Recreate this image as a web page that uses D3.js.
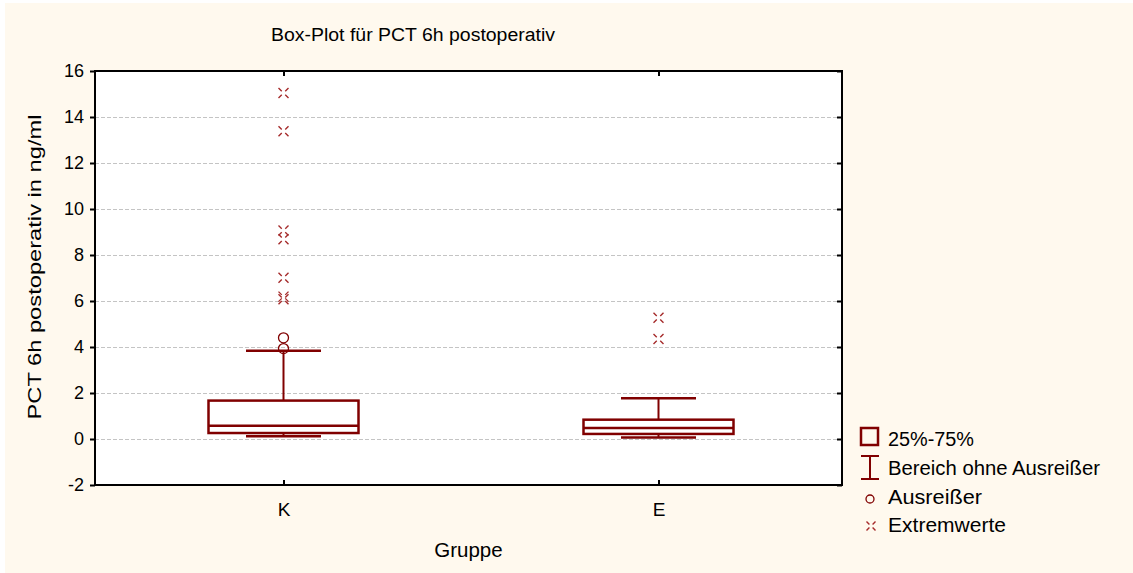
<!DOCTYPE html>
<html>
<head>
<meta charset="utf-8">
<script src="https://cdn.jsdelivr.net/npm/d3@7"></script>
<style>
  html, body { margin: 0; padding: 0; background: #ffffff; }
  svg { display: block; }
  text { font-family: "Liberation Sans", Arial, sans-serif; fill: #000; }
</style>
</head>
<body>
<svg id="chart" width="1133" height="573"></svg>
<script>
// Groups and box-plot statistics (PCT 6h postoperativ, ng/ml)
const categories = ["K", "E"];
const whiskerLow = [0.12, 0.07];
const q1 = [0.26, 0.22];
const median = [0.58, 0.48];
const q3 = [1.67, 0.84];
const whiskerHigh = [3.84, 1.77];
const outliers = [[4.40, 3.93], []];
const extremes = [[15.04, 13.38, 9.07, 8.68, 7.01, 6.19, 6.08], [5.27, 4.35]];
const yTicks = [-2, 0, 2, 4, 6, 8, 10, 12, 14, 16];
const legendItems = ["25%-75%", "Bereich ohne Ausreißer", "Ausreißer", "Extremwerte"];

const boxColor = "#800000";
const markColor = "#a52a2a";

const svg = d3.select("#chart");

// cream page panel
svg.append("rect").attr("x", 5).attr("y", 3).attr("width", 1128).attr("height", 570)
  .attr("fill", "#fff9ee");

const plot = { left: 95, right: 842, top: 71, bottom: 485 };

const y = d3.scaleLinear().domain([-2, 16]).range([plot.bottom, plot.top]);
const x = d3.scalePoint().domain(categories).range([plot.left + 1, plot.right + 4]).padding(0.5);
const step = x.step();
const boxW = step * 0.4;
const capW = step * 0.2;

// plot background
svg.append("rect").attr("x", plot.left).attr("y", plot.top)
  .attr("width", plot.right - plot.left).attr("height", plot.bottom - plot.top)
  .attr("fill", "#ffffff");

// horizontal grid
svg.append("g").selectAll("line").data(yTicks.filter(d => d > -2 && d < 16)).join("line")
  .attr("x1", plot.left).attr("x2", plot.right)
  .attr("y1", d => Math.round(y(d)) + 0.5).attr("y2", d => Math.round(y(d)) + 0.5)
  .attr("stroke", "#c4c4c4").attr("stroke-width", 1).attr("stroke-dasharray", "4,2");

// left axis with outward ticks (plain hyphen for negatives)
const yAxis = d3.axisLeft(y).tickValues(yTicks).tickSize(5).tickPadding(6).tickFormat(d => String(d));
const gy = svg.append("g").attr("transform", `translate(${plot.left},0)`).call(yAxis);
gy.select(".domain").remove();
gy.selectAll(".tick line").attr("stroke", "#000").attr("stroke-width", 2);
gy.selectAll(".tick text").attr("font-size", 18).attr("font-family", "Liberation Sans, Arial, sans-serif")
  .attr("fill", "#000");

// right axis with inward ticks
const gyr = svg.append("g").attr("transform", `translate(${plot.right},0)`)
  .call(d3.axisRight(y).tickValues(yTicks).tickSize(-5).tickFormat(""));
gyr.select(".domain").remove();
gyr.selectAll(".tick line").attr("stroke", "#000").attr("stroke-width", 2);

// bottom and top axes with inward ticks
const gx = svg.append("g").attr("transform", `translate(0,${plot.bottom})`)
  .call(d3.axisBottom(x).tickSize(-5).tickPadding(14));
gx.select(".domain").remove();
gx.selectAll(".tick line").attr("stroke", "#000").attr("stroke-width", 2);
gx.selectAll(".tick text").attr("font-size", 19).attr("font-family", "Liberation Sans, Arial, sans-serif")
  .attr("fill", "#000").attr("dy", "0.9em");

const gxt = svg.append("g").attr("transform", `translate(0,${plot.top})`)
  .call(d3.axisTop(x).tickSize(-5).tickFormat(""));
gxt.select(".domain").remove();
gxt.selectAll(".tick line").attr("stroke", "#000").attr("stroke-width", 2);

// frame
svg.append("rect").attr("x", plot.left).attr("y", plot.top)
  .attr("width", plot.right - plot.left).attr("height", plot.bottom - plot.top)
  .attr("fill", "none").attr("stroke", "#000").attr("stroke-width", 2);

// boxes
const groups = svg.append("g").selectAll("g").data(categories).join("g");

groups.append("line")
  .attr("x1", d => x(d)).attr("x2", d => x(d))
  .attr("y1", (d, i) => y(whiskerLow[i])).attr("y2", (d, i) => y(whiskerHigh[i]))
  .attr("stroke", boxColor).attr("stroke-width", 2);

groups.selectAll("line.cap").data((d, i) => [whiskerLow[i], whiskerHigh[i]].map(v => ({ c: d, v })))
  .join("line").attr("class", "cap")
  .attr("x1", d => x(d.c) - capW / 2).attr("x2", d => x(d.c) + capW / 2)
  .attr("y1", d => y(d.v)).attr("y2", d => y(d.v))
  .attr("stroke", boxColor).attr("stroke-width", 2.5);

groups.append("rect")
  .attr("x", d => x(d) - boxW / 2).attr("width", boxW)
  .attr("y", (d, i) => y(q3[i])).attr("height", (d, i) => y(q1[i]) - y(q3[i]))
  .attr("fill", "#ffffff").attr("stroke", boxColor).attr("stroke-width", 2.5);

groups.append("line")
  .attr("x1", d => x(d) - boxW / 2).attr("x2", d => x(d) + boxW / 2)
  .attr("y1", (d, i) => y(median[i])).attr("y2", (d, i) => y(median[i]))
  .attr("stroke", boxColor).attr("stroke-width", 2.5);

// outliers (open circles)
groups.selectAll("circle").data((d, i) => outliers[i].map(v => ({ c: d, v })))
  .join("circle")
  .attr("cx", d => x(d.c)).attr("cy", d => y(d.v)).attr("r", 5)
  .attr("fill", "none").attr("stroke", boxColor).attr("stroke-width", 1.3);

// extreme values: broken cross made of four corner strokes
function crossPath(cx, cy, s) {
  const a = s, b = s * 0.35;
  return `M${cx - a},${cy - a}L${cx - b},${cy - b}M${cx + a},${cy - a}L${cx + b},${cy - b}` +
         `M${cx - a},${cy + a}L${cx - b},${cy + b}M${cx + a},${cy + a}L${cx + b},${cy + b}`;
}
groups.selectAll("path.ext").data((d, i) => extremes[i].map(v => ({ c: d, v })))
  .join("path").attr("class", "ext")
  .attr("d", d => crossPath(x(d.c), y(d.v), 5))
  .attr("stroke", markColor).attr("stroke-width", 1.4).attr("fill", "none");

// titles
svg.append("text").attr("x", 271).attr("y", 41).attr("font-size", 18)
  .attr("textLength", 284).attr("lengthAdjust", "spacingAndGlyphs")
  .text("Box-Plot für PCT 6h postoperativ");

svg.append("text").attr("transform", `translate(41,267) rotate(-90)`)
  .attr("text-anchor", "middle").attr("font-size", 19)
  .attr("textLength", 305).attr("lengthAdjust", "spacingAndGlyphs")
  .text("PCT 6h postoperativ in ng/ml");

svg.append("text").attr("x", 468.5).attr("y", 557)
  .attr("text-anchor", "middle").attr("font-size", 20.5)
  .text("Gruppe");

// legend
const lg = svg.append("g");
const lx = 870, textX = 888;
const rowY = [445.5, 475, 504, 532];

lg.append("rect").attr("x", lx - 9).attr("y", 428).attr("width", 17).attr("height", 17)
  .attr("fill", "none").attr("stroke", boxColor).attr("stroke-width", 2.5);
lg.append("path").attr("d", `M${lx - 9},456H${lx + 9}M${lx},456V479M${lx - 9},479H${lx + 9}`)
  .attr("stroke", boxColor).attr("stroke-width", 2).attr("fill", "none");
lg.append("circle").attr("cx", lx).attr("cy", 499).attr("r", 4)
  .attr("fill", "none").attr("stroke", boxColor).attr("stroke-width", 1.3);
lg.append("path").attr("d", crossPath(lx + 1, 526, 4.5))
  .attr("stroke", markColor).attr("stroke-width", 1.4).attr("fill", "none");

lg.selectAll("text").data(legendItems).join("text")
  .attr("x", textX).attr("y", (d, i) => rowY[i]).attr("font-size", 20)
  .attr("textLength", (d, i) => [86, 212, 94, 118][i]).attr("lengthAdjust", "spacingAndGlyphs")
  .text(d => d);
</script>
</body>
</html>
